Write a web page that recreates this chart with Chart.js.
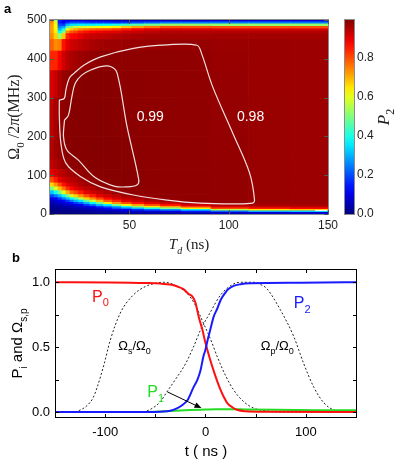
<!DOCTYPE html>
<html>
<head>
<meta charset="utf-8">
<script src="https://cdn.jsdelivr.net/npm/chart.js@4.4.0/dist/chart.umd.min.js"></script>
<style>
  html, body { margin: 0; padding: 0; background: #fff; }
  #wrap { position: relative; width: 399px; height: 460px; overflow: hidden; }
  #wrap canvas { position: absolute; left: 0; top: 0; }
</style>
</head>
<body>
<div id="wrap">
  <canvas id="mapChart" width="399" height="460"></canvas>
  <canvas id="barChart" width="399" height="460"></canvas>
  <canvas id="lineChart" width="399" height="460"></canvas>
</div>
<script>
// ---- panel a : P2 over (Td, Omega0/2pi) ----
// column centres in ns, band edges in MHz, values row by row from the bottom band up
const tdCenters = [11, 13, 15, 17, 19, 21, 23, 25.5, 28.5, 31.5, 35, 39, 43.5, 48.5, 54, 61, 70, 82, 100, 120, 142];
const omegaEdges = [0, 4, 8, 12, 16, 20, 25, 30, 36, 42, 50, 60, 70, 80, 95, 115, 140, 200, 300, 370, 420, 450, 465, 472, 478, 484, 490, 495, 500];
const p2Map = [
  [0, 0, 0, 0, 0, 0.01, 0.01, 0.01, 0.01, 0.01, 0.02, 0.02, 0.02, 0.03, 0.03, 0.04, 0.04, 0.05, 0.07, 0.08, 0.08],
  [0, 0, 0.01, 0.01, 0.01, 0.01, 0.01, 0.02, 0.02, 0.03, 0.04, 0.05, 0.06, 0.07, 0.08, 0.09, 0.10, 0.15, 0.22, 0.30, 0.32],
  [0.01, 0.01, 0.01, 0.02, 0.02, 0.02, 0.02, 0.03, 0.04, 0.05, 0.06, 0.08, 0.09, 0.12, 0.17, 0.22, 0.27, 0.35, 0.55, 0.65, 0.68],
  [0.01, 0.02, 0.02, 0.03, 0.03, 0.03, 0.04, 0.05, 0.06, 0.07, 0.09, 0.13, 0.19, 0.24, 0.31, 0.40, 0.50, 0.65, 0.80, 0.85, 0.87],
  [0.02, 0.03, 0.03, 0.04, 0.05, 0.05, 0.06, 0.08, 0.09, 0.12, 0.18, 0.24, 0.30, 0.40, 0.53, 0.65, 0.72, 0.82, 0.91, 0.93, 0.94],
  [0.03, 0.04, 0.05, 0.06, 0.07, 0.07, 0.09, 0.11, 0.18, 0.24, 0.31, 0.36, 0.50, 0.64, 0.72, 0.80, 0.86, 0.915, 0.95, 0.96, 0.96],
  [0.05, 0.06, 0.07, 0.08, 0.10, 0.13, 0.18, 0.22, 0.30, 0.37, 0.48, 0.64, 0.73, 0.80, 0.86, 0.90, 0.93, 0.96, 0.975, 0.97, 0.97],
  [0.07, 0.08, 0.10, 0.13, 0.18, 0.24, 0.30, 0.35, 0.46, 0.57, 0.69, 0.78, 0.84, 0.90, 0.925, 0.95, 0.965, 0.98, 0.98, 0.975, 0.972],
  [0.10, 0.12, 0.18, 0.24, 0.31, 0.37, 0.45, 0.55, 0.67, 0.74, 0.81, 0.87, 0.91, 0.935, 0.952, 0.972, 0.981, 0.983, 0.981, 0.975, 0.972],
  [0.19, 0.24, 0.30, 0.37, 0.49, 0.59, 0.67, 0.73, 0.80, 0.85, 0.90, 0.925, 0.945, 0.965, 0.977, 0.982, 0.984, 0.983, 0.981, 0.975, 0.972],
  [0.32, 0.39, 0.49, 0.60, 0.70, 0.77, 0.81, 0.85, 0.90, 0.92, 0.94, 0.955, 0.977, 0.981, 0.983, 0.985, 0.984, 0.983, 0.981, 0.975, 0.972],
  [0.49, 0.59, 0.69, 0.76, 0.83, 0.87, 0.90, 0.925, 0.94, 0.952, 0.972, 0.979, 0.983, 0.985, 0.986, 0.985, 0.984, 0.983, 0.981, 0.975, 0.972],
  [0.66, 0.73, 0.80, 0.86, 0.90, 0.92, 0.935, 0.952, 0.966, 0.977, 0.983, 0.988, 0.991, 0.99, 0.989, 0.986, 0.984, 0.983, 0.981, 0.975, 0.972],
  [0.80, 0.85, 0.90, 0.92, 0.935, 0.945, 0.955, 0.968, 0.979, 0.984, 0.988, 0.991, 0.992, 0.992, 0.99, 0.986, 0.984, 0.983, 0.981, 0.975, 0.972],
  [0.90, 0.92, 0.935, 0.95, 0.96, 0.968, 0.975, 0.981, 0.986, 0.99, 0.992, 0.993, 0.993, 0.993, 0.989, 0.986, 0.984, 0.983, 0.981, 0.975, 0.972],
  [0.935, 0.95, 0.965, 0.976, 0.982, 0.985, 0.987, 0.99, 0.992, 0.993, 0.993, 0.993, 0.993, 0.992, 0.988, 0.986, 0.984, 0.983, 0.981, 0.975, 0.972],
  [0.95, 0.965, 0.976, 0.985, 0.99, 0.992, 0.993, 0.994, 0.994, 0.995, 0.995, 0.995, 0.994, 0.992, 0.988, 0.986, 0.985, 0.983, 0.98, 0.975, 0.972],
  [0.94, 0.96, 0.978, 0.985, 0.99, 0.992, 0.993, 0.994, 0.995, 0.995, 0.995, 0.994, 0.992, 0.989, 0.987, 0.986, 0.985, 0.984, 0.979, 0.975, 0.972],
  [0.91, 0.93, 0.955, 0.975, 0.982, 0.987, 0.99, 0.992, 0.993, 0.994, 0.994, 0.993, 0.99, 0.988, 0.987, 0.986, 0.985, 0.983, 0.977, 0.974, 0.972],
  [0.84, 0.84, 0.88, 0.92, 0.945, 0.955, 0.965, 0.972, 0.978, 0.982, 0.986, 0.987, 0.986, 0.985, 0.985, 0.985, 0.985, 0.983, 0.976, 0.974, 0.972],
  [0.78, 0.74, 0.75, 0.86, 0.90, 0.92, 0.93, 0.94, 0.95, 0.96, 0.965, 0.97, 0.972, 0.974, 0.976, 0.978, 0.979, 0.978, 0.974, 0.973, 0.972],
  [0.74, 0.67, 0.52, 0.68, 0.84, 0.87, 0.88, 0.90, 0.92, 0.93, 0.935, 0.94, 0.95, 0.955, 0.96, 0.963, 0.965, 0.965, 0.965, 0.965, 0.965],
  [0.72, 0.64, 0.38, 0.50, 0.74, 0.79, 0.81, 0.84, 0.86, 0.88, 0.89, 0.90, 0.90, 0.92, 0.93, 0.94, 0.95, 0.95, 0.95, 0.95, 0.95],
  [0.72, 0.63, 0.30, 0.38, 0.62, 0.68, 0.71, 0.74, 0.76, 0.78, 0.79, 0.80, 0.82, 0.85, 0.88, 0.90, 0.91, 0.91, 0.91, 0.91, 0.91],
  [0.72, 0.63, 0.25, 0.28, 0.46, 0.53, 0.56, 0.58, 0.59, 0.60, 0.61, 0.62, 0.64, 0.68, 0.72, 0.76, 0.80, 0.80, 0.80, 0.80, 0.80],
  [0.72, 0.62, 0.20, 0.18, 0.30, 0.34, 0.35, 0.36, 0.36, 0.36, 0.37, 0.38, 0.40, 0.43, 0.46, 0.49, 0.52, 0.52, 0.52, 0.52, 0.52],
  [0.74, 0.60, 0.15, 0.12, 0.17, 0.20, 0.20, 0.20, 0.19, 0.18, 0.18, 0.18, 0.17, 0.18, 0.20, 0.22, 0.24, 0.24, 0.24, 0.24, 0.24],
  [0.75, 0.55, 0.15, 0.10, 0.10, 0.10, 0.10, 0.10, 0.09, 0.08, 0.08, 0.07, 0.06, 0.06, 0.07, 0.075, 0.08, 0.08, 0.08, 0.08, 0.08]
];
// contour lines [Td, Omega]
const contour99 = [[17.3, 242], [19.3, 255], [21, 302], [22.7, 337], [26, 358], [30.5, 371], [35.5, 380], [40.5, 380], [43.8, 363], [48.8, 225], [54.7, 88], [53.8, 75], [48.8, 70], [42.2, 72], [32.2, 96], [24.3, 139], [18.5, 165], [16.8, 199], [17.3, 242]];
const contour98 = [[14.7, 294], [17.2, 298], [18, 320], [19.7, 350], [22.2, 363], [27.2, 384], [35.5, 405], [52, 427], [69, 436], [84, 435], [86.3, 414], [92, 327], [102, 209], [110.5, 106], [113, 36], [112, 28], [102, 26], [85.5, 28], [69, 36], [52, 49], [35.5, 70], [25.5, 96], [18, 131], [15.5, 182], [14.7, 251], [14.7, 294]];
const contourCorner = [[143.5, 9], [149.5, 9]];
const contourLabels = ['0.99', '0.98'];
const contourLabelTd = [60.5, 111];
const contourLabelOmega = [250, 250];
const p2Max = 0.995;
const colorbarTicks = [0, 0.2, 0.4, 0.6, 0.8];

// ---- panel b : populations and pulses vs t (ns) ----
const tP0 = [-150, -95, -60, -45, -35, -28, -22, -17, -13, -10, -6.7, -3, 0, 4, 8, 12, 15, 18, 22, 27, 32, 40, 60, 151];
const p0 = [0.998, 0.996, 0.992, 0.988, 0.98, 0.965, 0.945, 0.91, 0.887, 0.84, 0.73, 0.63, 0.53, 0.42, 0.32, 0.23, 0.17, 0.12, 0.067, 0.035, 0.015, 0.006, 0.002, 0];
const tP1 = [-150, -60, -45, -35, -20, -5, 10, 25, 40, 70, 110, 151];
const p1 = [0, 0.001, 0.004, 0.008, 0.013, 0.018, 0.022, 0.022, 0.02, 0.017, 0.014, 0.013];
const tP2 = [-150, -60, -45, -35, -28, -22, -18, -12, -8, -5, -2, 0, 2, 5, 8, 12, 15, 20, 22, 28, 35, 45, 95, 151];
const p2 = [0, 0, 0.003, 0.01, 0.03, 0.06, 0.09, 0.19, 0.25, 0.32, 0.43, 0.48, 0.55, 0.64, 0.73, 0.8, 0.86, 0.92, 0.94, 0.97, 0.983, 0.99, 0.995, 0.998];
const tOs = [-150, -132, -125, -118, -112, -108, -101, -95, -85, -72, -60, -50, -42, -35, -28, -18, -10, -3, 5, 12, 20, 28, 38, 48, 60, 70, 151];
const omegaS = [0, 0, 0.015, 0.05, 0.11, 0.19, 0.37, 0.55, 0.76, 0.9, 0.965, 0.99, 0.998, 0.99, 0.965, 0.91, 0.82, 0.7, 0.56, 0.42, 0.28, 0.17, 0.08, 0.03, 0.01, 0, 0];
const tOp = [-150, -65, -55, -45, -38, -30, -20, -12, -5, 5, 15, 28, 35, 48, 55, 61, 75, 88, 98, 108, 118, 128, 140, 151];
const omegaP = [0, 0, 0.02, 0.08, 0.16, 0.25, 0.37, 0.5, 0.63, 0.77, 0.9, 0.985, 0.998, 0.998, 0.98, 0.95, 0.78, 0.58, 0.37, 0.19, 0.07, 0.015, 0, 0];
const xTickMarks = [-150, -100, -50, 0, 50, 100, 150];
const xLabelled = [-100, 0, 100];
const yTickMarks = [0, 0.25, 0.5, 0.75, 1];
const yLabelled = [0, 0.5, 1];

const SANS = "'Liberation Sans', Arial, sans-serif";
const SERIF = "'Liberation Serif', 'DejaVu Serif', serif";
Chart.defaults.font.family = SANS;
Chart.defaults.color = '#111';

function jet(v) {
  const c = (x) => Math.round(255 * Math.max(0, Math.min(1, x)));
  return 'rgb(' + c(1.5 - Math.abs(4 * v - 3)) + ',' + c(1.5 - Math.abs(4 * v - 2)) + ',' + c(1.5 - Math.abs(4 * v - 1)) + ')';
}

const zip = (xs, ys) => xs.map((x, i) => ({ x: x, y: ys[i] }));
const T = (t, o) => Object.assign({ t: t }, o || {});

// text with subscripts / italics, optionally rotated
function richText(ctx, parts, x, y, opt) {
  const size = opt.size, fam = opt.family || SANS;
  const fontOf = (p) => (p.it ? 'italic ' : '') + (opt.bold ? 'bold ' : '') + (p.sub ? Math.round(size * 0.68) : size) + 'px ' + fam;
  ctx.save();
  ctx.fillStyle = opt.color || '#000';
  ctx.textBaseline = 'alphabetic';
  ctx.textAlign = 'left';
  let w = 0;
  parts.forEach(p => { ctx.font = fontOf(p); w += ctx.measureText(p.t).width; });
  ctx.translate(x, y);
  if (opt.rotate) ctx.rotate(opt.rotate);
  let cx = opt.align === 'center' ? -w / 2 : 0;
  parts.forEach(p => {
    ctx.font = fontOf(p);
    ctx.fillText(p.t, cx, p.sub ? size * 0.3 : 0);
    cx += ctx.measureText(p.t).width;
  });
  ctx.restore();
}

// inward tick marks on all four sides, at the given axis values
function innerTicks(chart, xs, ys, len, color) {
  const { ctx, chartArea: a, scales: { x, y } } = chart;
  ctx.save();
  ctx.strokeStyle = color;
  ctx.lineWidth = 1;
  ctx.beginPath();
  xs.forEach(v => {
    const px = Math.round(x.getPixelForValue(v)) + 0.5;
    ctx.moveTo(px, a.bottom); ctx.lineTo(px, a.bottom - len);
    ctx.moveTo(px, a.top); ctx.lineTo(px, a.top + len);
  });
  ys.forEach(v => {
    const py = Math.round(y.getPixelForValue(v)) + 0.5;
    ctx.moveTo(a.left, py); ctx.lineTo(a.left + len, py);
    ctx.moveTo(a.right, py); ctx.lineTo(a.right - len, py);
  });
  ctx.stroke();
  ctx.restore();
}

// ---------- panel a ----------
const mapDecor = {
  id: 'mapDecor',
  afterDraw(chart) {
    const { ctx, chartArea: a, scales: { x, y } } = chart;
    ctx.save();
    ctx.strokeStyle = '#8c8c8c';
    ctx.lineWidth = 1;
    ctx.strokeRect(a.left - 0.5, a.top - 0.5, a.right - a.left + 1, a.bottom - a.top + 1);
    ctx.fillStyle = '#fff';
    ctx.font = '14px ' + SANS;
    ctx.textAlign = 'center';
    ctx.textBaseline = 'middle';
    contourLabels.forEach((s, i) => ctx.fillText(s, x.getPixelForValue(contourLabelTd[i]), y.getPixelForValue(contourLabelOmega[i])));
    ctx.restore();
    innerTicks(chart, x.ticks.map(t => t.value), y.ticks.map(t => t.value), 4, '#555');
    richText(ctx, [T('a')], 4, 13, { size: 13, bold: true });
    richText(ctx, [T('Ω'), T('0', { sub: true }), T(' /2'), T('π', { it: true }), T('(MHz)')], 19, (a.top + a.bottom) / 2,
      { size: 16, family: SERIF, align: 'center', rotate: -Math.PI / 2, color: '#222' });
    richText(ctx, [T('T', { it: true }), T('d', { it: true, sub: true }), T(' (ns)')], (a.left + a.right) / 2, 249,
      { size: 15, family: SERIF, align: 'center', color: '#222' });
  }
};

const mapSets = p2Map.map((row, j) => ({
  type: 'bar',
  stack: 'map',
  data: row.map((v, i) => ({ x: tdCenters[i], y: [omegaEdges[j], omegaEdges[j + 1]] })),
  backgroundColor: row.map(v => jet(v)),
  barThickness: 'flex',
  barPercentage: 1,
  categoryPercentage: 1,
  borderWidth: 0,
  order: 5
}));
const contourSets = [contour99, contour98, contourCorner].map(c => ({
  type: 'line',
  data: c.map(p => ({ x: p[0], y: p[1] })),
  borderColor: 'rgba(255,255,255,0.88)',
  borderWidth: 1.2,
  pointRadius: 0,
  tension: 0.35,
  fill: false,
  order: -1
}));

new Chart(document.getElementById('mapChart'), {
  type: 'bar',
  data: { datasets: contourSets.concat(mapSets) },
  options: {
    responsive: false,
    animation: false,
    events: [],
    layout: { padding: { top: 20, right: 71, left: 0, bottom: 0 } },
    plugins: { legend: { display: false }, tooltip: { enabled: false } },
    scales: {
      x: {
        type: 'linear', min: 10, max: 150, offset: false,
        ticks: { stepSize: 50, includeBounds: false, padding: 4, autoSkip: false, maxRotation: 0, font: { size: 12 }, color: '#222' },
        grid: { display: false, drawTicks: false }, border: { display: false },
        afterFit: s => { s.height = 246; }
      },
      y: {
        type: 'linear', min: 0, max: 500, stacked: false,
        ticks: { stepSize: 100, includeBounds: false, padding: 3, font: { size: 12 }, color: '#222' },
        grid: { display: false, drawTicks: false }, border: { display: false },
        afterFit: s => { s.width = 50; }
      }
    }
  },
  plugins: [mapDecor]
});

// ---------- colour bar ----------
const barDecor = {
  id: 'barDecor',
  afterDraw(chart) {
    const { ctx, chartArea: a } = chart;
    ctx.save();
    ctx.strokeStyle = '#8c8c8c';
    ctx.lineWidth = 1;
    ctx.strokeRect(a.left - 0.5, a.top - 0.5, a.right - a.left + 1, a.bottom - a.top + 1);
    ctx.restore();
    richText(ctx, [T('P', { it: true }), T('2', { sub: true })], 389, (a.top + a.bottom) / 2,
      { size: 17, family: SERIF, align: 'center', rotate: -Math.PI / 2, color: '#222' });
  }
};

function jetGradient(chart) {
  const a = chart.chartArea;
  if (!a) return '#800000';
  const g = chart.ctx.createLinearGradient(0, a.bottom, 0, a.top);
  for (let k = 0; k <= 20; k++) g.addColorStop(k / 20, jet(k / 20 * p2Max));
  return g;
}

new Chart(document.getElementById('barChart'), {
  type: 'bar',
  data: { labels: ['P2'], datasets: [{ data: [[0, p2Max]], backgroundColor: c => jetGradient(c.chart), barPercentage: 1, categoryPercentage: 1, borderWidth: 0 }] },
  options: {
    responsive: false,
    animation: false,
    events: [],
    layout: { padding: { left: 345, top: 20, bottom: 246, right: 0 } },
    plugins: { legend: { display: false }, tooltip: { enabled: false } },
    scales: {
      x: { display: false },
      y: {
        position: 'right', min: 0, max: p2Max,
        afterBuildTicks: s => { s.ticks = colorbarTicks.map(v => ({ value: v })); },
        ticks: { padding: 3, font: { size: 12 }, color: '#222', callback: v => v.toFixed(1) },
        grid: { display: false, drawTicks: false }, border: { display: false },
        afterFit: s => { s.width = 45; }
      }
    }
  },
  plugins: [barDecor]
});

// ---------- panel b ----------
const lineDecor = {
  id: 'lineDecor',
  afterDraw(chart) {
    const { ctx, chartArea: a, scales: { x, y } } = chart;
    ctx.save();
    ctx.strokeStyle = '#000';
    ctx.lineWidth = 1;
    ctx.strokeRect(a.left + 0.5, a.top + 0.5, a.right - a.left - 1, a.bottom - a.top - 1);
    ctx.restore();
    innerTicks(chart, xTickMarks, yTickMarks, 4, '#000');
    const px = (t) => x.getPixelForValue(t), py = (v) => y.getPixelForValue(v);
    richText(ctx, [T('b')], 12, 262, { size: 13, bold: true });
    richText(ctx, [T('P'), T('0', { sub: true })], px(-113), py(0.85), { size: 16, color: '#ff1010' });
    richText(ctx, [T('Ω'), T('s', { sub: true }), T('/Ω'), T('0', { sub: true })], px(-87), py(0.477), { size: 13, color: '#000' });
    richText(ctx, [T('P'), T('1', { sub: true })], px(-58), py(0.115), { size: 16, color: '#22dd22' });
    richText(ctx, [T('P'), T('2', { sub: true })], px(88), py(0.8), { size: 16, color: '#1a1aff' });
    richText(ctx, [T('Ω'), T('p', { sub: true }), T('/Ω'), T('0', { sub: true })], px(55), py(0.477), { size: 13, color: '#000' });
    // arrow pointing at P1
    const x0 = px(-38), y0 = py(0.155), x1 = px(-4), y1 = py(0.03);
    const ang = Math.atan2(y1 - y0, x1 - x0);
    ctx.save();
    ctx.strokeStyle = '#000'; ctx.fillStyle = '#000'; ctx.lineWidth = 1;
    ctx.beginPath(); ctx.moveTo(x0, y0); ctx.lineTo(x1 - 5 * Math.cos(ang), y1 - 5 * Math.sin(ang)); ctx.stroke();
    ctx.beginPath();
    ctx.moveTo(x1, y1);
    ctx.lineTo(x1 - 7 * Math.cos(ang) + 3 * Math.sin(ang), y1 - 7 * Math.sin(ang) - 3 * Math.cos(ang));
    ctx.lineTo(x1 - 7 * Math.cos(ang) - 3 * Math.sin(ang), y1 - 7 * Math.sin(ang) + 3 * Math.cos(ang));
    ctx.closePath(); ctx.fill();
    ctx.restore();
    richText(ctx, [T('P'), T('i', { sub: true }), T(' and Ω'), T('s,p', { sub: true })], 22, (a.top + a.bottom) / 2,
      { size: 15, align: 'center', rotate: -Math.PI / 2 });
    richText(ctx, [T('t ( ns )')], (a.left + a.right) / 2, 456, { size: 15, align: 'center' });
  }
};

const solid = (data, color, order) => ({ data: data, borderColor: color, borderWidth: 2, pointRadius: 0, cubicInterpolationMode: 'monotone', fill: false, order: order });
const dashed = (data) => ({ data: data, borderColor: '#222', borderWidth: 1, borderDash: [2, 2], pointRadius: 0, cubicInterpolationMode: 'monotone', fill: false, order: 4 });

new Chart(document.getElementById('lineChart'), {
  type: 'line',
  data: {
    datasets: [
      dashed(zip(tOs, omegaS)),
      dashed(zip(tOp, omegaP)),
      solid(zip(tP1, p1), '#22dd22', 2),
      solid(zip(tP0, p0), '#ff1010', 1),
      solid(zip(tP2, p2), '#1a1aff', 0)
    ]
  },
  options: {
    responsive: false,
    animation: false,
    events: [],
    layout: { padding: { top: 269, right: 42, left: 0, bottom: 0 } },
    plugins: { legend: { display: false }, tooltip: { enabled: false } },
    scales: {
      x: {
        type: 'linear', min: -150, max: 151,
        afterBuildTicks: s => { s.ticks = xLabelled.map(v => ({ value: v })); },
        ticks: { padding: 7, autoSkip: false, maxRotation: 0, font: { size: 13 }, color: '#000' },
        grid: { display: false, drawTicks: false }, border: { display: false },
        afterFit: s => { s.height = 42; }
      },
      y: {
        type: 'linear', min: -0.046, max: 1.1,
        afterBuildTicks: s => { s.ticks = yLabelled.map(v => ({ value: v })); },
        ticks: { padding: 5, autoSkip: false, font: { size: 13 }, color: '#000', callback: v => v.toFixed(1) },
        grid: { display: false, drawTicks: false }, border: { display: false },
        afterFit: s => { s.width = 55; }
      }
    }
  },
  plugins: [lineDecor]
});
</script>
</body>
</html>
